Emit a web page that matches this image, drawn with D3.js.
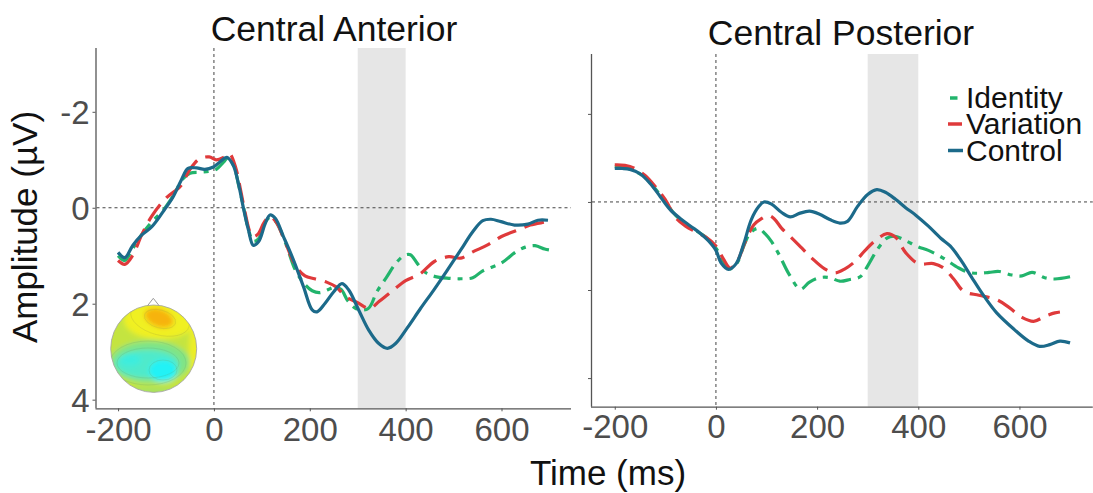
<!DOCTYPE html>
<html>
<head>
<meta charset="utf-8">
<script src="https://cdn.jsdelivr.net/npm/d3@7"></script>
<style>
  html, body { margin: 0; padding: 0; background: #fff; }
  svg { display: block; font-family: "Liberation Sans", Arial, Helvetica, sans-serif; }
</style>
</head>
<body>
<svg id="chart" width="1093" height="493"></svg>
<script>
// ---------------- DATA ----------------
const seriesNames = ["Identity", "Variation", "Control"];
const panelTitles = ["Central Anterior", "Central Posterior"];
const xTicks = [-200, 0, 200, 400, 600];
const xTickLabels = ["-200", "0", "200", "400", "600"];
const yTicks = [-2, 0, 2, 4];
const yTickLabels = ["-2", "0", "2", "4"];
const analysisWindow = [300, 400];
const xLabel = "Time (ms)";
const yLabel = "Amplitude (\u00B5V)";

// Central Anterior  [time ms, amplitude µV]
const anteriorIdentity = [
  [-200,1.0],[-186,1.1],[-170,0.86],[-150,0.55],[-130,0.3],[-105,0.04],[-85,-0.25],[-65,-0.6],
  [-50,-0.72],[-30,-0.74],[-10,-0.76],[5,-0.8],[20,-0.95],[30,-1.05],[42,-0.85],[52,-0.45],
  [62,0.0],[72,0.45],[82,0.7],[93,0.65],[107,0.3],[117,0.2],[130,0.3],[150,0.75],[170,1.3],
  [190,1.6],[205,1.73],[220,1.77],[235,1.72],[250,1.66],[265,1.7],[280,1.95],[300,2.12],
  [322,2.1],[340,1.75],[360,1.45],[380,1.15],[398,0.99],[410,0.98],[425,1.17],[440,1.34],
  [460,1.43],[490,1.47],[515,1.48],[540,1.46],[560,1.32],[600,1.15],[630,0.92],[650,0.82],
  [670,0.79],[690,0.86],[700,0.88]
];
const anteriorVariation = [
  [-200,1.1],[-186,1.18],[-170,1.0],[-150,0.55],[-130,0.18],[-100,-0.2],[-70,-0.45],[-50,-0.8],
  [-30,-1.02],[-10,-1.06],[5,-1.0],[20,-1.05],[32,-1.13],[45,-0.85],[55,-0.4],[65,0.1],
  [75,0.5],[82,0.6],[92,0.55],[105,0.3],[117,0.18],[130,0.3],[150,0.75],[170,1.2],[190,1.42],
  [210,1.48],[235,1.55],[255,1.65],[275,1.85],[300,1.98],[325,2.1],[345,1.95],[370,1.75],
  [400,1.52],[430,1.38],[460,1.12],[490,1.02],[515,1.05],[540,0.92],[570,0.78],[600,0.6],
  [630,0.48],[660,0.36],[690,0.3],[700,0.28]
];
const anteriorControl = [
  [-200,0.93],[-186,1.04],[-169,0.78],[-151,0.57],[-130,0.4],[-106,0.08],[-85,-0.23],[-68,-0.58],
  [-54,-0.82],[-36,-0.83],[-19,-0.8],[-1,-0.85],[13,-0.96],[27,-1.05],[40,-0.89],[51,-0.51],
  [61,-0.02],[72,0.46],[82,0.78],[93,0.71],[107,0.33],[117,0.15],[128,0.22],[145,0.6],
  [166,1.09],[187,1.65],[205,2.13],[215,2.17],[232,1.99],[250,1.75],[267,1.58],[281,1.71],
  [302,2.13],[323,2.55],[344,2.83],[362,2.93],[379,2.83],[403,2.51],[431,2.1],[459,1.71],
  [487,1.3],[515,0.88],[540,0.5],[561,0.27],[578,0.24],[599,0.29],[627,0.36],[655,0.34],
  [676,0.26],[697,0.26]
];

// Central Posterior  [time ms, amplitude µV]
const posteriorIdentity = [
  [-200,-0.8],[-180,-0.78],[-160,-0.7],[-140,-0.55],[-120,-0.3],[-100,0.0],[-80,0.3],[-60,0.5],
  [-40,0.65],[-20,0.8],[0,1.05],[15,1.35],[28,1.52],[42,1.38],[55,1.0],[68,0.7],[84,0.6],
  [97,0.72],[110,0.9],[125,1.2],[145,1.65],[167,1.98],[185,1.82],[205,1.72],[225,1.72],
  [245,1.8],[265,1.76],[285,1.7],[300,1.45],[318,1.1],[338,0.82],[354,0.78],[375,0.88],
  [400,1.02],[420,1.1],[450,1.28],[480,1.5],[500,1.6],[520,1.62],[540,1.6],[560,1.58],
  [585,1.66],[605,1.68],[625,1.6],[650,1.72],[670,1.75],[700,1.7]
];
const posteriorVariation = [
  [-200,-0.84],[-180,-0.83],[-160,-0.76],[-140,-0.6],[-120,-0.35],[-100,-0.05],[-80,0.35],
  [-60,0.55],[-40,0.68],[-20,0.8],[0,1.0],[15,1.3],[28,1.5],[42,1.35],[58,0.9],[75,0.52],
  [90,0.38],[104,0.31],[115,0.38],[130,0.6],[150,0.82],[170,1.05],[190,1.28],[215,1.52],
  [235,1.61],[255,1.52],[275,1.35],[295,1.1],[315,0.88],[338,0.72],[355,0.8],[375,1.15],
  [400,1.4],[430,1.4],[450,1.5],[470,1.75],[490,2.03],[520,2.12],[555,2.22],[580,2.4],
  [605,2.62],[628,2.71],[650,2.6],[670,2.52],[680,2.5]
];
const posteriorControl = [
  [-200,-0.76],[-185,-0.76],[-170,-0.74],[-150,-0.64],[-130,-0.42],[-110,-0.12],[-90,0.18],
  [-70,0.38],[-50,0.55],[-30,0.72],[-15,0.88],[0,1.1],[10,1.38],[25,1.53],[40,1.4],[55,0.95],
  [70,0.4],[85,0.1],[95,0.0],[110,0.05],[130,0.24],[147,0.34],[165,0.26],[185,0.21],[205,0.28],
  [225,0.4],[245,0.48],[260,0.44],[280,0.1],[300,-0.17],[318,-0.28],[335,-0.22],[355,-0.06],
  [375,0.13],[395,0.3],[420,0.55],[445,0.83],[463,1.0],[483,1.3],[505,1.7],[530,2.14],
  [555,2.52],[590,2.9],[618,3.16],[640,3.28],[660,3.24],[680,3.16],[700,3.2]
];

// ---------------- STYLE ----------------
const colors = { Identity: "#22b46c", Variation: "#df3a3b", Control: "#1c6a8a" };
const dashes = { Identity: "17 7 5 7", Variation: "20 9", Control: null };

const svg = d3.select("#chart");
const FONT = '"Liberation Sans", Arial, Helvetica, sans-serif';

const panels = [
  {
    title: panelTitles[0], titleX: 334, titleY: 41,
    x: d3.scaleLinear().domain([-245, 745]).range([96.5, 571]),
    y: d3.scaleLinear().domain([-3.33, 4.18]).range([48, 408.3]),
    series: { Identity: anteriorIdentity, Variation: anteriorVariation, Control: anteriorControl },
    yLabels: true, xLabelY: 441
  },
  {
    title: panelTitles[1], titleX: 841, titleY: 45,
    x: d3.scaleLinear().domain([-245, 745]).range([592, 1092.8]),
    y: d3.scaleLinear().domain([-3.36, 4.65]).range([54, 406.7]),
    series: { Identity: posteriorIdentity, Variation: posteriorVariation, Control: posteriorControl },
    yLabels: false, xLabelY: 438
  }
];

// topomap defs
const defs = svg.append("defs");
defs.append("filter").attr("id", "blur").attr("x", "-20%").attr("y", "-20%").attr("width", "140%").attr("height", "140%")
  .append("feGaussianBlur").attr("stdDeviation", 2.6);
defs.append("clipPath").attr("id", "headClip")
  .append("ellipse").attr("cx", 153.7).attr("cy", 348.7).attr("rx", 43).attr("ry", 43.7);

panels.forEach((p, i) => {
  const [x0, x1] = p.x.range();
  const [yTop, yBot] = p.y.range();
  const g = svg.append("g");

  // analysis window
  g.append("rect")
    .attr("x", p.x(analysisWindow[0])).attr("y", yTop)
    .attr("width", p.x(analysisWindow[1]) - p.x(analysisWindow[0]))
    .attr("height", yBot - yTop)
    .attr("fill", "#e6e6e6");

  // reference lines
  g.append("line").attr("x1", x0).attr("x2", x1).attr("y1", p.y(0)).attr("y2", p.y(0))
    .attr("stroke", "#444").attr("stroke-width", 1).attr("stroke-dasharray", "3 3");
  g.append("line").attr("x1", p.x(0)).attr("x2", p.x(0)).attr("y1", yTop).attr("y2", yBot)
    .attr("stroke", "#444").attr("stroke-width", 1).attr("stroke-dasharray", "3 3");

  // axes
  const xAxis = d3.axisBottom(p.x).tickValues(xTicks).tickSize(3).tickFormat((d, k) => xTickLabels[k]);
  const xg = g.append("g").attr("transform", `translate(0,${yBot})`).call(xAxis);
  xg.select(".domain").attr("d", `M${x0 - 1},0.5H${x1}`).attr("stroke", "#555").attr("stroke-width", 1.3);
  xg.selectAll(".tick line").attr("stroke", "#555");
  xg.selectAll(".tick text")
    .attr("y", p.xLabelY - yBot).attr("dy", 0)
    .attr("font-size", 33).attr("font-family", FONT).attr("fill", "#4d4d4d");

  const yAxis = d3.axisLeft(p.y).tickValues(yTicks).tickSize(3)
    .tickFormat((d, k) => p.yLabels ? yTickLabels[k] : "");
  const yg = g.append("g").attr("transform", `translate(${x0 - 1},0)`).call(yAxis);
  yg.select(".domain").attr("d", `M0.5,${yTop}V${yBot}`).attr("stroke", "#555").attr("stroke-width", 1.3);
  yg.selectAll(".tick line").attr("stroke", "#555");
  yg.selectAll(".tick text")
    .attr("x", -6).attr("dy", "0.36em")
    .attr("font-size", 33).attr("font-family", FONT).attr("fill", "#4d4d4d");

  // title
  svg.append("text").attr("x", p.titleX).attr("y", p.titleY)
    .attr("text-anchor", "middle").attr("font-size", 35.5).attr("fill", "#111")
    .text(p.title);

  // topomap (left panel)
  if (i === 0) {
    const tg = g.append("g");
    tg.append("path").attr("d", "M146.5,307 L153.3,298.3 L160.2,307")
      .attr("fill", "none").attr("stroke", "#9a9a9a").attr("stroke-width", 1);
    const blobs = tg.append("g").attr("clip-path", "url(#headClip)");
    const inner = blobs.append("g").attr("filter", "url(#blur)");
    inner.append("rect").attr("x", 105).attr("y", 300).attr("width", 100).attr("height", 100).attr("fill", "#c4e440");
    inner.append("ellipse").attr("cx", 198).attr("cy", 348).attr("rx", 9).attr("ry", 34).attr("fill", "#ecee26");
    inner.append("ellipse").attr("cx", 160).attr("cy", 320).attr("rx", 36).attr("ry", 19).attr("fill", "#f0f020");
    inner.append("ellipse").attr("cx", 159).attr("cy", 318).attr("rx", 15).attr("ry", 9)
      .attr("transform", "rotate(20,159,318)").attr("fill", "#f7b30c");
    inner.append("ellipse").attr("cx", 150).attr("cy", 362).attr("rx", 40).attr("ry", 21).attr("fill", "#7fe486");
    inner.append("ellipse").attr("cx", 147).attr("cy", 364).attr("rx", 32).attr("ry", 14).attr("fill", "#4feacb");
    inner.append("ellipse").attr("cx", 163).attr("cy", 371).attr("rx", 14).attr("ry", 11).attr("fill", "#22f2f6");
    inner.append("ellipse").attr("cx", 130).attr("cy", 360).attr("rx", 11).attr("ry", 6).attr("fill", "#3eedde");
    inner.append("ellipse").attr("cx", 150).attr("cy", 393).attr("rx", 30).attr("ry", 6).attr("fill", "#a8e25e");
    // faint contours
    [[38, 22], [31, 15], [14, 10]].forEach(([rx, ry], k) => {
      blobs.append("ellipse").attr("cx", k === 2 ? 163 : 148).attr("cy", k === 2 ? 370 : 363).attr("rx", rx).attr("ry", ry)
        .attr("fill", "none").attr("stroke", "#5f9f6a").attr("stroke-opacity", 0.35).attr("stroke-width", 0.6);
    });
    [[30, 16], [16, 9]].forEach(([rx, ry]) => {
      blobs.append("ellipse").attr("cx", 160).attr("cy", 319).attr("rx", rx).attr("ry", ry)
        .attr("transform", "rotate(15,160,319)")
        .attr("fill", "none").attr("stroke", "#9a9a40").attr("stroke-opacity", 0.35).attr("stroke-width", 0.6);
    });
    tg.append("ellipse").attr("cx", 153.7).attr("cy", 348.7).attr("rx", 43).attr("ry", 43.7)
      .attr("fill", "none").attr("stroke", "#a0a0a0").attr("stroke-width", 0.8);
  }

  // waveforms
  const line = d3.line().x(d => p.x(d[0])).y(d => p.y(d[1])).curve(d3.curveCatmullRom.alpha(0.5));
  seriesNames.forEach(name => {
    g.append("path").datum(p.series[name])
      .attr("d", line)
      .attr("fill", "none")
      .attr("stroke", colors[name])
      .attr("stroke-width", 3.2)
      .attr("stroke-linejoin", "round")
      .attr("stroke-dasharray", dashes[name]);
  });
});

// axis titles
svg.append("text").attr("transform", "translate(37,227) rotate(-90)")
  .attr("text-anchor", "middle").attr("font-size", 35).attr("fill", "#111").text(yLabel);
svg.append("text").attr("x", 608).attr("y", 485)
  .attr("text-anchor", "middle").attr("font-size", 35).attr("fill", "#111").text(xLabel);

// legend
const legend = svg.append("g");
const legendBaselines = [108, 134, 160.5];
const keySpans = { Identity: [950, 957.5], Variation: [948, 962], Control: [948, 963] };
seriesNames.forEach((name, k) => {
  const by = legendBaselines[k];
  legend.append("line")
    .attr("x1", keySpans[name][0]).attr("x2", keySpans[name][1])
    .attr("y1", by - 10).attr("y2", by - 10)
    .attr("stroke", colors[name]).attr("stroke-width", 3.5);
  legend.append("text").attr("x", 966).attr("y", by)
    .attr("font-size", 30).attr("fill", "#111").text(name);
});
</script>
</body>
</html>
